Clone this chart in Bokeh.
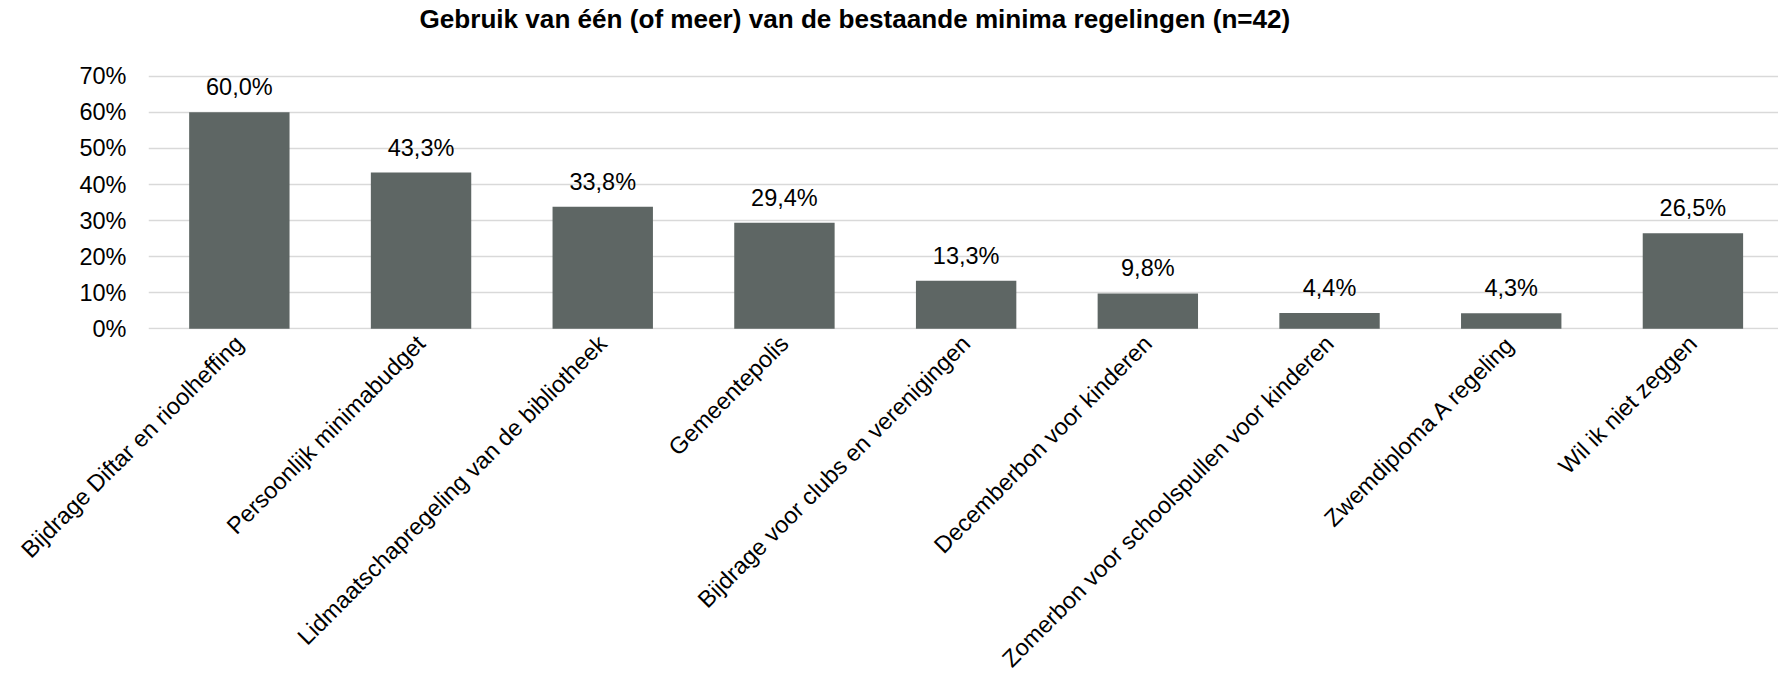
from bokeh.plotting import figure
from bokeh.models import ColumnDataSource, Range1d, FixedTicker, PrintfTickFormatter, Title
from bokeh.embed import file_html
from bokeh.resources import INLINE
from bokeh.core.properties import value

categories = [
    "Bijdrage Diftar en rioolheffing",
    "Persoonlijk minimabudget",
    "Lidmaatschapregeling van de bibliotheek",
    "Gemeentepolis",
    "Bijdrage voor clubs en verenigingen",
    "Decemberbon voor kinderen",
    "Zomerbon voor schoolspullen voor kinderen",
    "Zwemdiploma A regeling",
    "Wil ik niet zeggen",
]
percentages = [60.0, 43.3, 33.8, 29.4, 13.3, 9.8, 4.4, 4.3, 26.5]
y_ticks = [0, 10, 20, 30, 40, 50, 60, 70]
title_text = "Gebruik van één (of meer) van de bestaande minima regelingen (n=42)"

FONT = "Liberation Sans"
FS = "23.5px"
BAR = "#5e6664"

xs = list(range(len(categories)))
labels = [f"{v:.1f}%".replace(".", ",") for v in percentages]
src = ColumnDataSource(dict(x=xs, top=percentages, label=labels))

p = figure(
    output_backend="svg", toolbar_location=None,
    frame_width=1630, frame_height=255,
    min_border_left=148, min_border_right=0, min_border_top=74, min_border_bottom=0,
    x_range=Range1d(-0.5, 8.471), y_range=Range1d(-0.2, 70.5),
    background_fill_color="white", border_fill_color="white",
)
p.outline_line_color = None

p.vbar(x="x", top="top", width=0.5525, bottom=0, source=src, fill_color=BAR, line_color=None)
p.text(x="x", y="top", text="label", source=src, y_offset=-25,
       text_align="center", text_baseline="alphabetic",
       text_font=value(FONT), text_font_size=FS, text_color="#000000")

# y axis
p.yaxis.ticker = FixedTicker(ticks=y_ticks)
p.yaxis.formatter = PrintfTickFormatter(format="%d%%")
p.yaxis.axis_line_color = None
p.yaxis.major_tick_line_color = None
p.yaxis.minor_tick_line_color = None
p.yaxis.major_tick_out = 0
p.yaxis.major_tick_in = 0
p.yaxis.major_label_standoff = 22
p.yaxis.major_label_text_font = FONT
p.yaxis.major_label_text_font_size = FS
p.yaxis.major_label_text_color = "#000000"

# x axis
p.xaxis.ticker = FixedTicker(ticks=xs)
p.xaxis.major_label_overrides = {i: c for i, c in zip(xs, categories)}
p.xaxis.major_label_orientation = 0.7853981634
p.xaxis.axis_line_color = None
p.xaxis.major_tick_line_color = None
p.xaxis.minor_tick_line_color = None
p.xaxis.major_tick_out = 0
p.xaxis.major_tick_in = 0
p.xaxis.major_label_standoff = 10
p.xaxis.major_label_text_font = FONT
p.xaxis.major_label_text_font_size = FS
p.xaxis.major_label_text_color = "#000000"

p.xgrid.grid_line_color = None
p.ygrid.ticker = FixedTicker(ticks=y_ticks)
p.ygrid.grid_line_color = "#d9d9d9"
p.ygrid.grid_line_width = 1.7

# spacer between title and plot area (closest to the frame), then the title
p.add_layout(Title(text=" ", standoff=38, text_font_size="1px"), "above")
p.add_layout(Title(text=title_text, align="left", offset=271,
                   text_font=FONT, text_font_size="26.1px", text_font_style="bold",
                   text_color="#000000", standoff=0), "above")

open("out.html", "w").write(file_html(p, INLINE))
